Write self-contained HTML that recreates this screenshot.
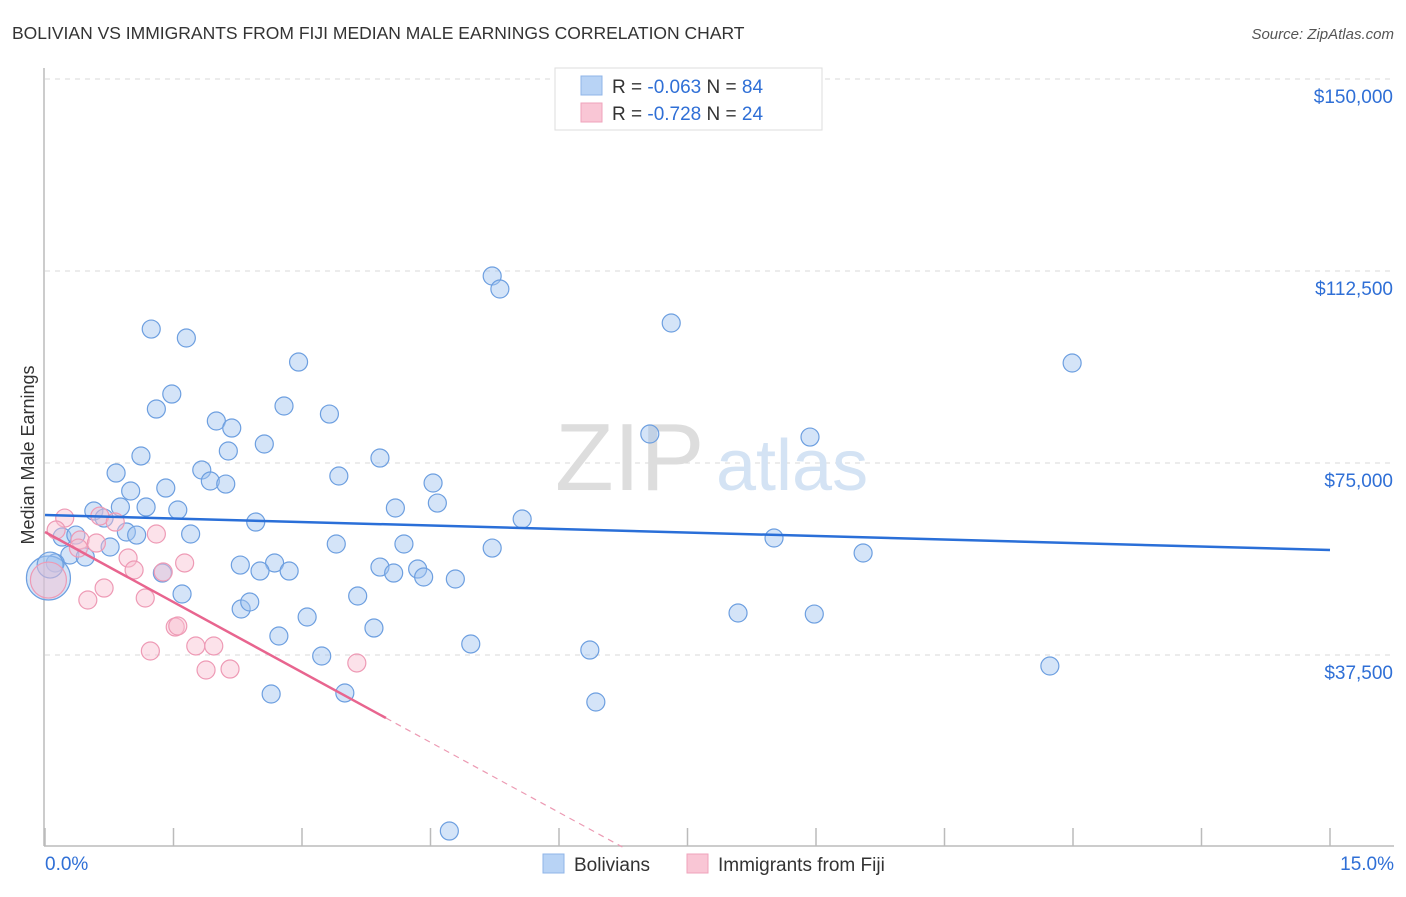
<!DOCTYPE html>
<html><head><meta charset="utf-8"><style>
body{margin:0;background:#fff;font-family:"Liberation Sans",sans-serif;}
svg text{font-family:"Liberation Sans",sans-serif;}
</style></head><body>
<svg id="c" width="1406" height="892" xmlns="http://www.w3.org/2000/svg">
<text x="12" y="39" font-size="17.5" fill="#333">BOLIVIAN VS IMMIGRANTS FROM FIJI MEDIAN MALE EARNINGS CORRELATION CHART</text>
<text x="1394" y="39" font-size="15" fill="#555" font-style="italic" text-anchor="end">Source: ZipAtlas.com</text>
<text x="0" y="0" transform="translate(34,455) rotate(-90)" font-size="18" fill="#333" text-anchor="middle">Median Male Earnings</text>
<g id="grid"></g>
<text x="555" y="490" font-size="96" fill="#ddd" font-family="Liberation Serif">ZIP</text>
<text x="716" y="490" font-size="72" fill="#d4e3f4">atlas</text>
<g id="pts"></g>
<g id="lines"></g>
<g>
<rect x="555" y="68" width="267" height="62" fill="#fff" stroke="#ddd"/>
<rect x="581" y="76" width="21" height="19" fill="#b8d3f5" stroke="#8fb5e8"/>
<rect x="581" y="103" width="21" height="19" fill="#f9c6d5" stroke="#efa3bb"/>
<text x="612" y="93" font-size="19" fill="#333">R = <tspan fill="#2f6fd6">-0.063</tspan>   N = <tspan fill="#2f6fd6">84</tspan></text>
<text x="612" y="120" font-size="19" fill="#333">R =  <tspan fill="#2f6fd6">-0.728</tspan>   N = <tspan fill="#2f6fd6">24</tspan></text>
</g>
<g>
<rect x="543" y="854" width="21" height="19" fill="#b8d3f5" stroke="#8fb5e8"/>
<text x="574" y="871" font-size="19" fill="#333">Bolivians</text>
<rect x="687" y="854" width="21" height="19" fill="#f9c6d5" stroke="#efa3bb"/>
<text x="718" y="871" font-size="19" fill="#333">Immigrants from Fiji</text>
</g>
</svg>
<script>
const yTicks=[37500,75000,112500,150000];
const yTickLabels=["$37,500","$75,000","$112,500","$150,000"];
const xTicks=[0,1.5,3,4.5,6,7.5,9,10.5,12,13.5,15];
const xEndLabels=["0.0%","15.0%"];
const blueX=[1.24,1.65,2.96,1.48,1.30,2.79,3.32,2.00,2.18,1.12,2.14,2.56,3.91,5.22,5.31,7.31,11.99,7.06,8.93,0.83,1.83,3.43,1.93,1.41,2.11,4.53,1.00,4.58,4.09,0.57,0.88,1.18,1.55,0.69,2.46,5.57,8.51,9.55,0.20,0.36,0.76,0.95,1.07,1.70,3.40,4.19,5.22,0.29,0.47,0.12,2.28,2.68,2.51,2.85,3.91,4.07,4.35,4.42,4.79,1.37,1.60,3.65,2.29,2.39,3.06,8.09,8.98,3.84,2.73,4.97,6.36,3.23,11.73,2.64,3.50,6.43,4.72,0.04,0.06];
const blueY=[101160,99410,94720,88470,85540,86130,84560,83200,81830,76370,77340,78710,75970,111520,108980,102340,94530,80660,80070,73040,73630,72460,71480,70110,70890,71090,69530,67180,66210,65620,66400,66400,65820,64250,63470,64060,60350,57420,60540,60930,58590,61520,60930,61130,59180,59180,58390,57030,56640,55470,55070,55470,53900,53900,54680,53510,54290,52730,52340,53510,49410,49020,46480,47850,44920,45700,45500,42770,41210,39650,38470,37300,35350,29880,30080,28320,3120,52540,55070];
const blueBig=[77,78];
const pinkX=[0.23,0.13,0.64,0.82,1.30,0.41,0.60,0.97,0.39,0.04,1.04,1.38,1.63,0.69,0.50,1.17,1.52,1.55,1.23,1.76,1.97,1.88,2.16,3.64];
const pinkY=[64250,61910,64640,63470,61130,59960,59370,56440,58390,52140,54100,53710,55470,50580,48240,48630,42970,43160,38280,39260,39260,34570,34760,35940];
const pinkBig=[9];
const blueTrend=[[0,64840],[15,58000]];
const pinkTrend=[[0,61520],[3.98,25190],[6.74,0]];

const X=v=>45+v/15*1285;
const Y=v=>847-v/37500*192;
const NS="http://www.w3.org/2000/svg";
function mk(tag,attrs,parent){const e=document.createElementNS(NS,tag);for(const k in attrs)e.setAttribute(k,attrs[k]);parent.appendChild(e);return e;}
const svg=document.getElementById('c');
const grid=document.getElementById('grid');
yTicks.forEach((t,i)=>{
 const l=mk('line',{x1:45,x2:1394,y1:Y(t),y2:Y(t),stroke:'#d8d8d8','stroke-dasharray':'5,5'},grid);
 
 
 const tx=mk('text',{x:1393,y:Y(t)+24,'font-size':19,fill:'#2f6fd6','text-anchor':'end'},grid);
 tx.textContent=yTickLabels[i];
 
 
});
const ax=mk('line',{x1:44,x2:44,y1:68,y2:846,stroke:'#bbb','stroke-width':1.5},grid);


const bx=mk('line',{x1:44,x2:1394,y1:846,y2:846,stroke:'#bbb','stroke-width':1.5},grid);


xTicks.forEach(t=>{
 const l=mk('line',{x1:X(t),x2:X(t),y1:828,y2:846,stroke:'#bbb','stroke-width':1.5},grid);
 
 
});
const xl0=mk('text',{x:45,y:870,'font-size':19,fill:'#2f6fd6'},grid);
xl0.textContent=xEndLabels[0];


const xl1=mk('text',{x:1394,y:870,'font-size':19,fill:'#2f6fd6','text-anchor':'end'},grid);
xl1.textContent=xEndLabels[1];



const pts=document.getElementById('pts');
blueX.forEach((x,i)=>{
 const c=mk('circle',{cx:X(x),cy:Y(blueY[i]),r:blueBig.includes(i)?(i==77?22:13):9,fill:'rgba(160,196,240,0.45)',stroke:'#6d9fe0','stroke-width':1.2},pts);
 
 
});
pinkX.forEach((x,i)=>{
 const c=mk('circle',{cx:X(x),cy:Y(pinkY[i]),r:pinkBig.includes(i)?18:9,fill:'rgba(248,190,208,0.45)',stroke:'#ee9ab5','stroke-width':1.2},pts);
 
 
});
const lines=document.getElementById('lines');
const bl=mk('line',{x1:X(blueTrend[0][0]),y1:Y(blueTrend[0][1]),x2:X(blueTrend[1][0]),y2:Y(blueTrend[1][1]),stroke:'#2a6fd8','stroke-width':2.5},lines);


const pl=mk('line',{x1:X(pinkTrend[0][0]),y1:Y(pinkTrend[0][1]),x2:X(pinkTrend[1][0]),y2:Y(pinkTrend[1][1]),stroke:'#e8658f','stroke-width':2.5},lines);


const pd=mk('line',{x1:X(pinkTrend[1][0]),y1:Y(pinkTrend[1][1]),x2:X(pinkTrend[2][0]),y2:Y(pinkTrend[2][1]),stroke:'#ec9ab3','stroke-width':1.2,'stroke-dasharray':'6,5'},lines);


</script>
</body></html>
